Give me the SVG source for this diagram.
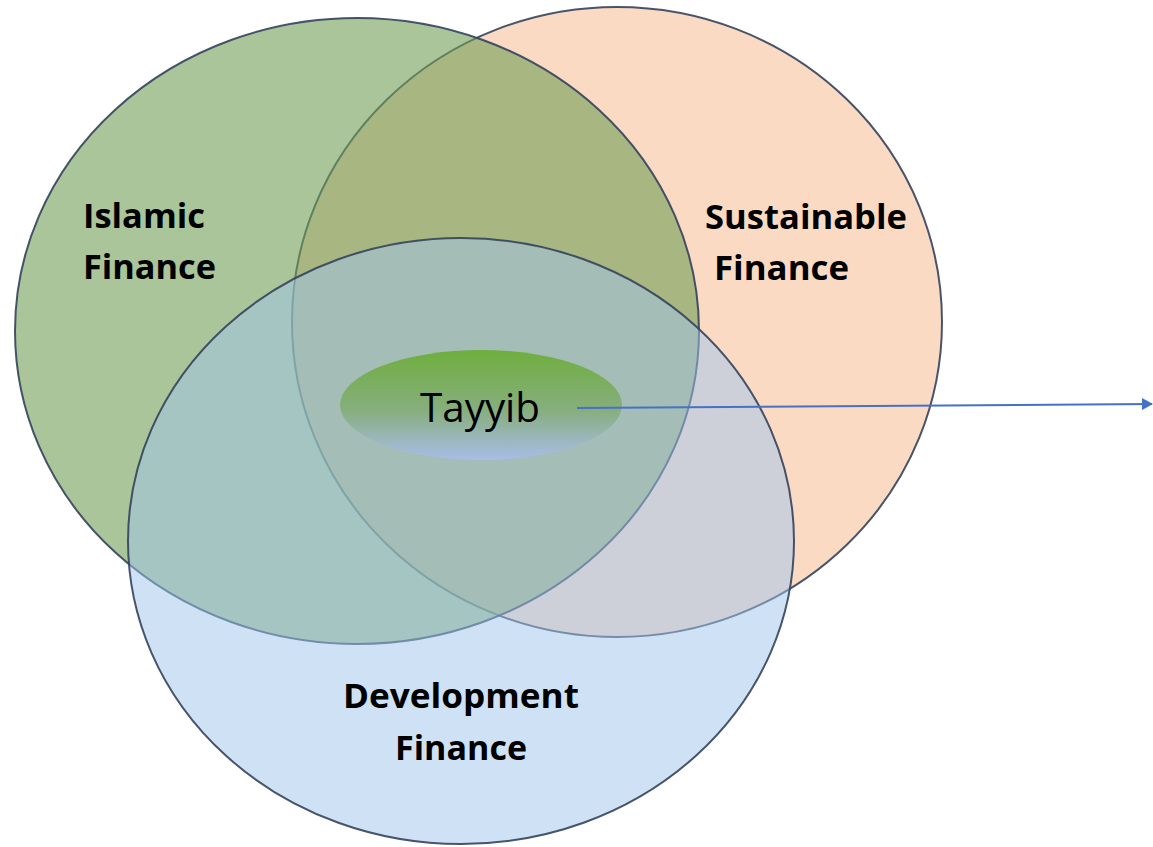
<svg xmlns="http://www.w3.org/2000/svg" width="1153" height="847" viewBox="0 0 1153 847">
<style>
.set{stroke:#34425c;stroke-width:2;stroke-opacity:0.9}
.lbl{font-family:"Open Sans","Liberation Sans",sans-serif;font-weight:bold;font-size:34px;fill:#000}
.tay{font-family:"Open Sans","Liberation Sans",sans-serif;font-size:40px;fill:#000}
</style>
<defs>
<linearGradient id="tg" x1="0" y1="0" x2="0" y2="1">
<stop offset="0" stop-color="#6fae3e"/>
<stop offset="0.55" stop-color="#87ae7e"/>
<stop offset="1" stop-color="#a9bde8"/>
</linearGradient>
<marker id="ah" markerWidth="12" markerHeight="12" refX="10" refY="6" orient="auto" markerUnits="userSpaceOnUse">
<path d="M0,0 L11,6 L0,12 Z" fill="#4472c4"/>
</marker>
</defs>
<rect width="1153" height="847" fill="#fff"/>
<g id="sustainable">
<ellipse cx="617" cy="322" rx="325" ry="315" fill="#fbdac4" class="set"/>
</g>
<g id="islamic">
<ellipse cx="357" cy="331" rx="342" ry="313" fill="#719e57" fill-opacity="0.6" class="set"/>
</g>
<g id="development">
<ellipse cx="461" cy="541" rx="333" ry="303" fill="#a0c5ec" fill-opacity="0.5" class="set"/>
</g>
<g id="tayyib">
<ellipse cx="481" cy="405" rx="141" ry="55" fill="url(#tg)"/>
<text class="tay" x="480" y="422" text-anchor="middle" textLength="120" lengthAdjust="spacingAndGlyphs">Tayyib</text>
</g>
<g id="labels">
<text class="lbl" x="83" y="228" textLength="122" lengthAdjust="spacingAndGlyphs">Islamic</text>
<text class="lbl" x="83" y="279" textLength="133" lengthAdjust="spacingAndGlyphs">Finance</text>
<text class="lbl" x="705" y="229" textLength="202" lengthAdjust="spacingAndGlyphs">Sustainable</text>
<text class="lbl" x="714" y="280" textLength="135" lengthAdjust="spacingAndGlyphs">Finance</text>
<text class="lbl" x="343" y="708" textLength="236" lengthAdjust="spacingAndGlyphs">Development</text>
<text class="lbl" x="395" y="760" textLength="132" lengthAdjust="spacingAndGlyphs">Finance</text>
</g>
<g id="connectors">
<line x1="577" y1="408" x2="1152" y2="404" stroke="#4472c4" stroke-width="2" marker-end="url(#ah)"/>
</g>
</svg>
